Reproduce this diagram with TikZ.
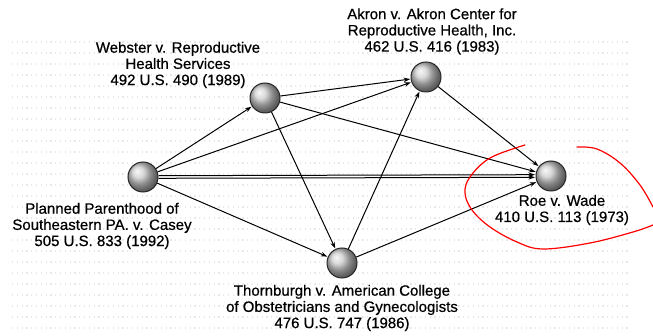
\documentclass[tikz,border=0pt]{standalone}
\usepackage{fontspec}
\setmainfont{Liberation Sans}[FakeBold=0.6]
\usetikzlibrary{arrows.meta}
\begin{document}
\begin{tikzpicture}[x=1pt,y=-1pt,
  case/.style={circle,draw=black!85,line width=1pt,minimum size=30pt,inner sep=0pt,ball color=gray!40},
  lbl/.style={align=center,font=\fontsize{15}{16.2}\selectfont,inner sep=0pt},
  cite/.style={draw=black,line width=1pt,-{Stealth[length=6.5pt,width=4.5pt]},shorten >=0.5pt},
  scribble/.style={red,line width=1.2pt,line cap=round}]
\useasboundingbox (0,0) rectangle (653,336);
\fill[white] (0,0) rectangle (653,336);
% faint halftone rows
\foreach \r in {0,...,26}{
  \draw[gray!18,line width=1.2pt,dash pattern=on 1.2pt off 3.6pt] (12,42+11*\r) -- (630,42+11*\r);
}
% labels
\node[lbl] (lweb) at (178,65) {Webster v. Reproductive\\Health Services\\492 U.S. 490 (1989)};
\node[lbl] (lakr) at (432,31.5) {Akron v. Akron Center for\\Reproductive Health, Inc.\\462 U.S. 416 (1983)};
\node[lbl] (lcas) at (102,226) {Planned Parenthood of\\Southeastern PA. v. Casey\\505 U.S. 833 (1992)};
\node[lbl] (lroe) at (562,210) {Roe v. Wade\\410 U.S. 113 (1973)};
\node[lbl] (ltho) at (342,308) {Thornburgh v. American College\\of Obstetricians and Gynecologists\\476 U.S. 747 (1986)};
% cases
\node[case] (cas) at (143,177) {};
\node[case] (web) at (265,98) {};
\node[case] (akr) at (426,77) {};
\node[case] (tho) at (342,263) {};
\node[case] (roe) at (551,176) {};
% citations
\draw[cite] (cas) -- (web);
\draw[cite] (cas) -- (akr);
\draw[cite] (cas) -- (tho);
\draw[cite] ([yshift=-1.3pt]cas.east) -- ([yshift=-1.3pt]roe.west);
\draw[cite] ([yshift=1.3pt]cas.east) -- ([yshift=1.3pt]roe.west);
\draw[cite] (web) -- (akr);
\draw[cite] (web) -- (roe);
\draw[cite] (web) -- (tho);
\draw[cite] (tho) -- (akr);
\draw[cite] (tho) -- (roe);
\draw[cite] (akr) -- (roe);
% red hand-drawn circle
\coordinate (r1) at (525,145);
\coordinate (r2) at (577,147);
\draw[scribble] plot[smooth,tension=0.6] coordinates {(r1) (490,158) (470,177) (465,193) (472,210) (490,227) (517,242) (543,249) (590,243) (633,232) (653,225)};
\draw[scribble] plot[smooth,tension=0.6] coordinates {(r2) (597,149) (620,163) (640,185) (653,207)};
\end{tikzpicture}
\end{document}
